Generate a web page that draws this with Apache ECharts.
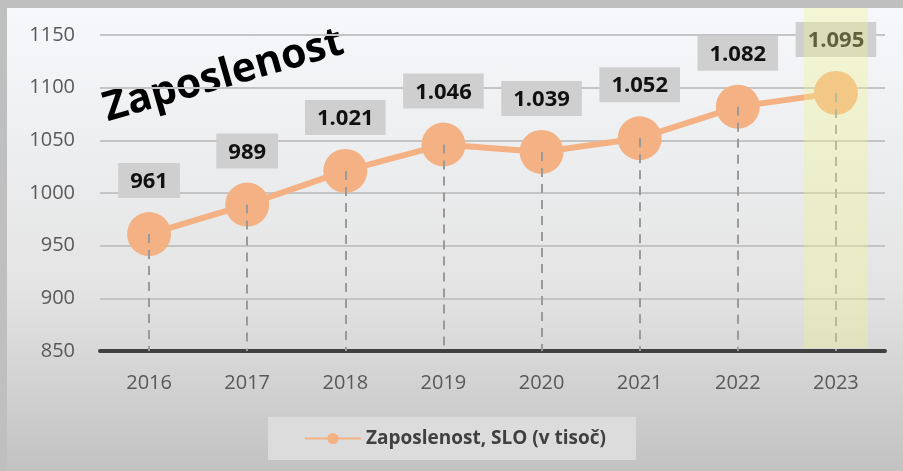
<!DOCTYPE html>
<html>
<head>
<meta charset="utf-8">
<script src="https://cdn.jsdelivr.net/npm/echarts@6/dist/echarts.min.js"></script>
<style>
    html, body { margin: 0; padding: 0; background: #bfbfbf; }
    #chart {
        position: absolute;
        left: 7px; top: 8px;
        width: 896px; height: 463px;
        background: linear-gradient(#f6f8fb 0%, #e4e4e4 60%, #c2c2c2 100%);
    }
</style>
</head>
<body>
<div id="chart"></div>
<script>
// podatki
var years = ['2016', '2017', '2018', '2019', '2020', '2021', '2022', '2023'];
var zaposlenost = [961, 989, 1021, 1046, 1039, 1052, 1082, 1095];
var yTicks = [850, 900, 950, 1000, 1050, 1100, 1150];
var seriesName = 'Zaposlenost, SLO (v tisoč)';
var highlightYear = '2023';

var myChart = echarts.init(document.getElementById('chart'));

// navpične črtkane črte od točke do osi
var dropLines = zaposlenost.map(function (v, i) {
    return [{ xAxis: i, yAxis: v }, { xAxis: i, yAxis: yTicks[0] }];
});

var option = {
    textStyle: { fontFamily: 'Open Sans, Noto Sans, sans-serif' },
    grid: [
        { left: 93, right: 18, top: 27, bottom: 120 },
        { left: 93, right: 18, top: -2, bottom: 123 }  // za poudarek 2023
    ],
    xAxis: [{
        type: 'category',
        data: years,
        gridIndex: 0,
        axisLine: { lineStyle: { color: '#404040', width: 4 } },
        axisTick: { show: false },
        axisLabel: { color: '#595959', fontSize: 20, margin: 22 }
    }, {
        type: 'category',
        data: years,
        gridIndex: 1,
        show: false
    }],
    yAxis: [{
        type: 'value',
        gridIndex: 0,
        min: yTicks[0],
        max: yTicks[yTicks.length - 1],
        interval: 50,
        axisLine: { show: false },
        axisTick: { show: false },
        axisLabel: {
            color: '#595959', fontSize: 20, margin: 25,
            formatter: function (v) { return String(v); }
        },
        splitLine: { lineStyle: { color: '#c4c4c4', width: 2 } }
    }, {
        type: 'value',
        gridIndex: 1,
        min: 0, max: 1,
        show: false
    }],
    legend: {
        bottom: 11,
        left: 'center',
        data: [seriesName],
        backgroundColor: 'rgba(222,222,222,0.9)',
        padding: [12, 30, 12, 36],
        itemWidth: 56,
        itemHeight: 14,
        itemGap: 4,
        textStyle: { color: '#404040', fontSize: 19, fontWeight: 'bold' }
    },
    graphic: [{
        type: 'text',
        left: 92,
        top: 14,
        rotation: 16 * Math.PI / 180,
        style: {
            text: 'Zaposlenost',
            fill: '#000',
            font: 'bold 41px "Open Sans", "Noto Sans", sans-serif'
        }
    }],
    series: [{
        name: seriesName,
        type: 'line',
        data: zaposlenost,
        symbol: 'circle',
        symbolSize: 44,
        lineStyle: { color: '#f4b183', width: 6 },
        itemStyle: { color: '#f4b183' },
        z: 3,
        label: {
            show: true,
            position: 'top',
            distance: 14,
            color: '#111',
            fontSize: 22,
            fontWeight: 'bold',
            backgroundColor: '#d0cfcf',
            padding: [8, 12, 5, 12],
            formatter: function (p) {
                return p.value >= 1000 ? (p.value / 1000).toFixed(3) : String(p.value);
            }
        }
    }, {
        type: 'line',
        data: [],
        z: 4,
        silent: true,
        markLine: {
            symbol: 'none',
            silent: true,
            label: { show: false },
            lineStyle: { color: '#9a9a9a', type: [9, 7], width: 2 },
            data: dropLines
        }
    }, {
        type: 'bar',
        xAxisIndex: 1,
        yAxisIndex: 1,
        barWidth: 64,
        silent: true,
        z: 10,
        itemStyle: { color: 'rgba(240,243,140,0.35)' },
        data: years.map(function (y) { return y === highlightYear ? 1 : null; })
    }]
};

myChart.setOption(option);
window.addEventListener('resize', function () { myChart.resize(); });
</script>
</body>
</html>
